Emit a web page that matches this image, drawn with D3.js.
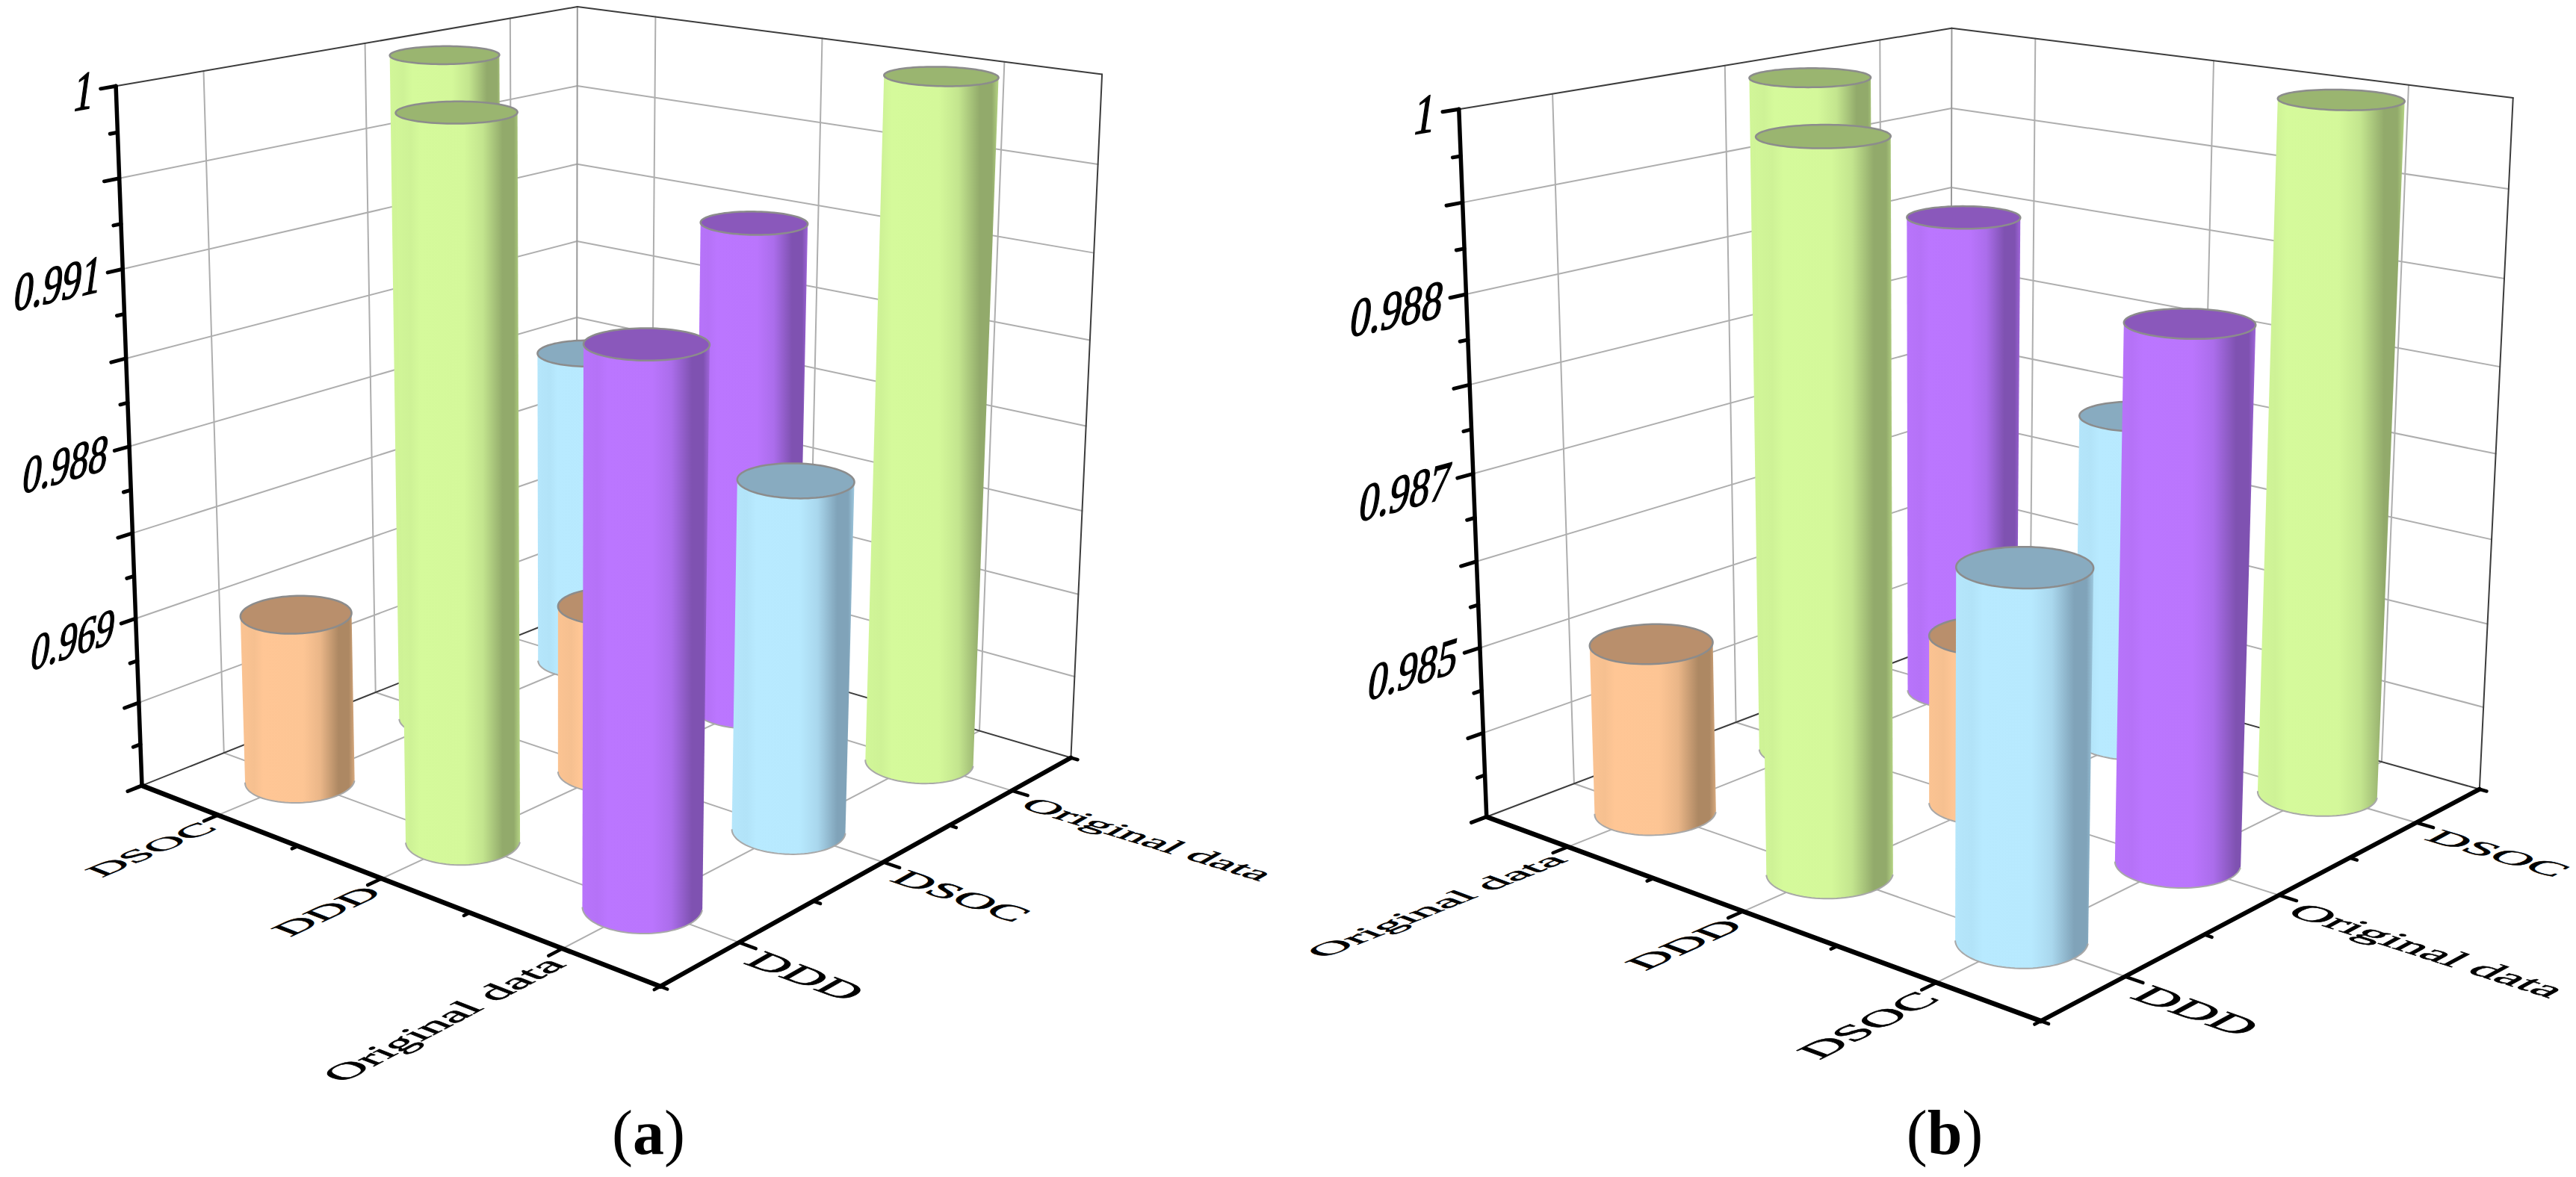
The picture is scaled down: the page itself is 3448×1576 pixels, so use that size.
<!DOCTYPE html>
<meta charset="utf-8">
<style>
body { margin: 0; background: #fff; }
text { font-family: "Liberation Serif", serif; fill: #000; }
</style>
<svg width="3448" height="1576"></svg>
<script src="https://d3js.org/d3.v7.min.js"></script>
<script>
// panel a
var xCatsA = ["DSOC", "DDD", "Original data"];
var yCatsA = ["DDD", "DSOC", "Original data"];
var zTicksA = [0.969, 0.988, 0.991, 1];
var zFloorA = 0.95;
var valuesA = [
  [0.969, 1, 0.988],
  [1, 0.969, 0.991],
  [0.991, 0.988, 1]
];

// panel b
var xCatsB = ["Original data", "DDD", "DSOC"];
var yCatsB = ["DDD", "Original data", "DSOC"];
var zTicksB = [0.985, 0.987, 0.988, 1];
var zFloorB = 0.983;
var valuesB = [
  [0.985, 1, 0.988],
  [1, 0.985, 0.987],
  [0.987, 0.988, 1]
];

// screen calibration of the box: u, v, z, px, py
var boxA = [[0,0,0,190.6,1052],[1,0,0,883,1321],[1,1,0,1434,1014],[0,1,0,771,820],
            [0,0,1,155,115],[1,1,1,1475,100],[0,1,1,773,9]];
var boxB = [[0,0,0,1991,1095],[1,0,0,2730,1367],[1,1,0,3320,1056],[0,1,0,2610,858],
            [0,0,1,1953,145],[1,1,1,3364,132],[0,1,1,2612,38]];

var bodyCols = ["#ffc695", "#b8eaff", "#bb76ff", "#d5fa9b"];
var topCols = ["#b98f6c", "#88abc0", "#8a58bb", "#9ab570"];
var darkCols = ["#a98560", "#7d9fb5", "#7c50ad", "#8ea668"];
var shade = [[0,.05],[.12,.1],[.2,0],[.55,.02],[.7,.25],[.86,.95],[.95,.95],[1,.45]];

var svg = d3.select("svg");
var defs = svg.append("defs");

function fitCamera(pts) {
  var ox = pts[0][3], oy = pts[0][4], A = [], b = [];
  pts.forEach(function(p) {
    var x = (p[3] - ox) / 1000, y = (p[4] - oy) / 1000;
    A.push([p[0],p[1],p[2],1,0,0,0,0,-x*p[0],-x*p[1],-x*p[2]]); b.push(x);
    A.push([0,0,0,0,p[0],p[1],p[2],1,-y*p[0],-y*p[1],-y*p[2]]); b.push(y);
  });
  // normal equations
  var M = d3.range(11).map(function(i) {
    return d3.range(12).map(function(j) {
      return d3.sum(A, function(r, k) { return r[i] * (j < 11 ? r[j] : b[k]); });
    });
  });
  for (var c = 0; c < 11; c++) {
    var piv = c;
    for (var r = c + 1; r < 11; r++) if (Math.abs(M[r][c]) > Math.abs(M[piv][c])) piv = r;
    var t = M[c]; M[c] = M[piv]; M[piv] = t;
    for (r = 0; r < 11; r++) if (r != c) {
      var f = M[r][c] / M[c][c];
      for (var j = c; j < 12; j++) M[r][j] -= f * M[c][j];
    }
  }
  var q = M.map(function(row, i) { return row[11] / row[i]; });
  return function(u, v, z) {
    var w = q[8]*u + q[9]*v + q[10]*z + 1;
    return [ox + 1000 * (q[0]*u + q[1]*v + q[2]*z + q[3]) / w,
            oy + 1000 * (q[4]*u + q[5]*v + q[6]*z + q[7]) / w];
  };
}

function panel(name, xCats, yCats, zTicks, zFloor, values, box, radius) {
  var g = svg.append("g");
  var P = fitCamera(box);
  var u = d3.scalePoint().domain(xCats).range([0, 1]).padding(0.5);
  var v = d3.scalePoint().domain(yCats).range([0, 1]).padding(0.5);
  var z = d3.scaleLinear().domain([zFloor].concat(zTicks)).range([0, .25, .5, .75, 1]);

  function seg(a, b, col, w) {
    var p = P.apply(null, a), q = P.apply(null, b);
    g.append("line").attr("x1", p[0]).attr("y1", p[1]).attr("x2", q[0]).attr("y2", q[1])
      .attr("stroke", col).attr("stroke-width", w).attr("stroke-linecap", "round");
  }

  // grid
  var grid = "#aeaeae";
  d3.range(1, 8).forEach(function(k) {
    seg([0,0,k/8], [0,1,k/8], grid, 2);
    seg([0,1,k/8], [1,1,k/8], grid, 2);
  });
  xCats.forEach(function(c) {
    seg([u(c),0,0], [u(c),1,0], grid, 2);
    seg([u(c),1,0], [u(c),1,1], grid, 2);
  });
  yCats.forEach(function(c) {
    seg([0,v(c),0], [1,v(c),0], grid, 2);
    seg([0,v(c),0], [0,v(c),1], grid, 2);
  });
  seg([0,1,0], [0,1,1], "#999", 2);

  // box edges
  var edge = "#3c3c3c";
  seg([0,0,1], [0,1,1], edge, 2);
  seg([0,1,1], [1,1,1], edge, 2);
  seg([1,1,1], [1,1,0], edge, 2);
  seg([0,0,0], [0,1,0], edge, 2);
  seg([0,1,0], [1,1,0], edge, 2);

  // cylinders, far ones first
  var cells = [];
  xCats.forEach(function(xc, i) {
    yCats.forEach(function(yc, j) {
      cells.push({x: xc, y: yc, value: values[i][j]});
    });
  });
  cells.sort(function(a, b) { return (u(a.x) - v(a.y)) - (u(b.x) - v(b.y)); });

  zTicks.forEach(function(t, i) {
    var gr = defs.append("linearGradient").attr("id", name + i);
    shade.forEach(function(s) {
      gr.append("stop").attr("offset", s[0])
        .attr("stop-color", d3.interpolateRgb(bodyCols[i], darkCols[i])(s[1]));
    });
  });

  var angles = d3.range(0, 2 * Math.PI, Math.PI / 48);
  cells.forEach(function(d) {
    var idx = zTicks.indexOf(d.value), h = z(d.value);
    var ring = function(zz) {
      return angles.map(function(a) {
        return P(u(d.x) + radius * Math.cos(a), v(d.y) + radius * Math.sin(a), zz);
      });
    };
    var base = ring(0), top = ring(h);
    g.append("path").attr("d", "M" + d3.polygonHull(base.concat(top)).join("L") + "Z")
      .attr("fill", "url(#" + name + idx + ")");
    // lower rim of the base
    var lo = d3.scan(base, function(a, b) { return a[0] - b[0]; });
    var hi = d3.scan(base, function(a, b) { return b[0] - a[0]; });
    var n = base.length, arc1 = [], arc2 = [];
    for (var i = lo; i != hi; i = (i + 1) % n) arc1.push(base[i]);
    for (i = lo; i != hi; i = (i - 1 + n) % n) arc2.push(base[i]);
    var arc = d3.mean(arc1, function(p) { return p[1]; }) > d3.mean(arc2, function(p) { return p[1]; }) ? arc1 : arc2;
    g.append("path").attr("d", "M" + arc.join("L")).attr("fill", "none")
      .attr("stroke", "#a8a8a8").attr("stroke-width", 2);
    g.append("path").attr("d", "M" + top.join("L") + "Z")
      .attr("fill", topCols[idx]).attr("stroke", "#8c8c8c").attr("stroke-width", 2.5);
  });

  // axes
  var ink = "#000";
  seg([0,0,0], [0,0,1], ink, 5.5);
  seg([0,0,0], [1,0,0], ink, 6.5);
  seg([1,0,0], [1,1,0], ink, 6);
  d3.range(0, 17).forEach(function(k) {
    var len = k % 2 ? 0.014 : 0.028;
    seg([0,0,k/16], [0,-len,k/16], ink, 5);
  });
  d3.range(0, 7).forEach(function(k) {
    var len = k % 2 ? 0.028 : 0.012;
    seg([k/6,0,0], [k/6,-len,0], ink, 4.5);
    seg([1,k/6,0], [1+len,k/6,0], ink, 4.5);
  });

  // labels lie in the box planes, so each gets its own local frame
  function frame(o, ax, ay) {
    var p = P.apply(null, o);
    var a = P(o[0]+ax[0], o[1]+ax[1], o[2]+ax[2]), b = P(o[0]+ay[0], o[1]+ay[1], o[2]+ay[2]);
    return "matrix(" + [a[0]-p[0], a[1]-p[1], b[0]-p[0], b[1]-p[1], p[0], p[1]].join(",") + ")";
  }
  xCats.forEach(function(c) {
    g.append("text").text(c).attr("text-anchor", "end").attr("dy", ".35em")
      .attr("font-size", 40).attr("stroke", "#000").attr("stroke-width", .7)
      .attr("transform", frame([u(c)+.015,-.032,0], [0,.00215,0], [.0015,0,0]));
  });
  yCats.forEach(function(c) {
    g.append("text").text(c).attr("text-anchor", "start").attr("dy", ".35em")
      .attr("font-size", 40).attr("stroke", "#000").attr("stroke-width", .7)
      .attr("transform", frame([1.04,v(c)-.02,0], [.002,0,0], [0,-.0018,0]));
  });
  zTicks.forEach(function(t) {
    g.append("text").text(t).attr("text-anchor", "end").attr("dy", ".35em")
      .attr("font-size", 40).attr("stroke", "#000").attr("stroke-width", .9)
      .attr("transform", frame([0,-.04,z(t)+.002], [0,.00178,0], [0,-.00045,-.0018]));
  });
}

panel("a", xCatsA, yCatsA, zTicksA, zFloorA, valuesA, boxA, 0.082);
panel("b", xCatsB, yCatsB, zTicksB, zFloorB, valuesB, boxB, 0.085);

function caption(x, letter) {
  var t = svg.append("text").attr("x", x).attr("y", 1545).attr("font-size", 84).attr("text-anchor", "middle");
  t.append("tspan").text("(");
  t.append("tspan").attr("font-weight", "bold").text(letter);
  t.append("tspan").text(")");
}
caption(868, "a");
caption(2603, "b");
</script>
